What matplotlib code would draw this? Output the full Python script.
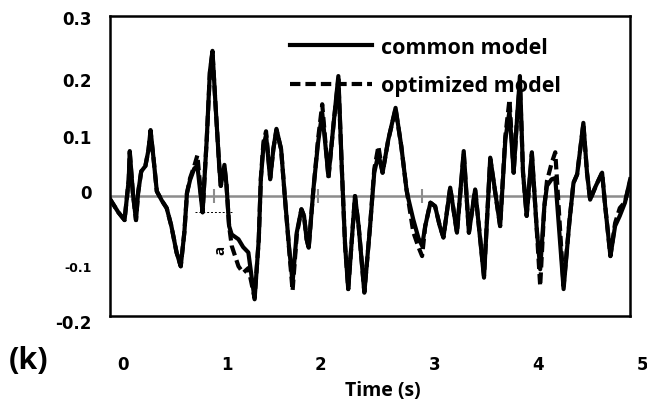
import matplotlib.pyplot as plt
from matplotlib.transforms import ScaledTranslation

# time (s) and response of the two models
time = [0.00, 0.08, 0.14, 0.18, 0.19, 0.22, 0.25, 0.27, 0.30, 0.34, 0.37,
        0.39, 0.42, 0.45, 0.50, 0.545, 0.59, 0.64, 0.68, 0.715, 0.74, 0.77,
        0.81, 0.84, 0.89, 0.93, 0.96, 0.985, 1.015, 1.05, 1.065, 1.10, 1.12,
        1.145, 1.17, 1.235, 1.28, 1.33, 1.39, 1.43, 1.45, 1.475, 1.50, 1.54,
        1.57, 1.60, 1.645, 1.68, 1.72, 1.755, 1.795, 1.84, 1.865, 1.89, 1.91,
        1.955, 2.00, 2.04, 2.10, 2.15, 2.195, 2.23, 2.26, 2.29, 2.355, 2.39,
        2.445, 2.50, 2.54, 2.58, 2.62, 2.675, 2.745, 2.80, 2.85, 2.87, 2.915,
        2.965, 3.00, 3.03, 3.08, 3.125, 3.17, 3.205, 3.27, 3.335, 3.40, 3.45,
        3.51, 3.595, 3.655, 3.75, 3.80, 3.84, 3.88, 3.91, 3.94, 3.97, 4.005,
        4.055, 4.10, 4.135, 4.175, 4.20, 4.245, 4.28, 4.36, 4.415, 4.455, 4.49,
        4.52, 4.55, 4.585, 4.615, 4.67, 4.73, 4.76, 4.81, 4.855, 4.90, 4.95,
        5.00]
common = [-0.005, -0.027, -0.04, 0.027, 0.075, 0.005, -0.04, 0.005, 0.041, 0.05, 0.077,
          0.11, 0.06, 0.008, -0.008, -0.02, -0.05, -0.094, -0.117, -0.06, 0.005, 0.027,
          0.046, 0.05, -0.027, 0.095, 0.207, 0.242, 0.15, 0.05, 0.017, 0.052, 0.018,
          -0.05, -0.064, -0.072, -0.085, -0.094, -0.172, -0.072, 0.028, 0.083, 0.102, 0.028,
          0.078, 0.112, 0.078, 0.0, -0.083, -0.144, -0.061, -0.022, -0.033, -0.072, -0.086,
          0.011, 0.089, 0.139, 0.033, 0.122, 0.2, 0.039, -0.083, -0.155, 0.0, -0.05,
          -0.161, -0.05, 0.039, 0.07, 0.039, 0.094, 0.147, 0.083, 0.011, -0.006, -0.039,
          -0.07, -0.083, -0.05, -0.011, -0.017, -0.05, -0.069, 0.014, -0.061, 0.075, -0.061,
          0.011, -0.136, 0.064, -0.05, 0.094, 0.142, 0.039, 0.122, 0.2, 0.039, -0.033,
          0.073, -0.05, -0.122, -0.017, 0.017, 0.028, 0.03, -0.155, -0.044, 0.022, 0.036,
          0.078, 0.122, 0.039, -0.006, 0.017, 0.039, -0.017, -0.1, -0.05, -0.033, -0.011,
          0.028]
optimized = [-0.005, -0.027, -0.04, 0.027, 0.072, 0.005, -0.04, 0.005, 0.041, 0.05, 0.077,
             0.108, 0.06, 0.008, -0.008, -0.02, -0.05, -0.094, -0.117, -0.06, 0.005, 0.03,
             0.05, 0.068, -0.027, 0.095, 0.205, 0.24, 0.15, 0.05, 0.017, 0.05, 0.018,
             -0.05, -0.083, -0.117, -0.128, -0.12, -0.17, -0.072, 0.03, 0.09, 0.108, 0.03,
             0.078, 0.11, 0.078, 0.0, -0.085, -0.158, -0.065, -0.022, -0.033, -0.072, -0.086,
             0.011, 0.095, 0.153, 0.03, 0.122, 0.195, 0.039, -0.083, -0.155, 0.0, -0.05,
             -0.16, -0.05, 0.045, 0.083, 0.039, 0.094, 0.145, 0.083, 0.011, -0.01, -0.06,
             -0.085, -0.1, -0.05, -0.011, -0.017, -0.05, -0.069, 0.014, -0.061, 0.072, -0.061,
             0.011, -0.133, 0.062, -0.05, 0.1, 0.161, 0.039, 0.122, 0.19, 0.039, -0.033,
             0.07, -0.05, -0.15, -0.017, 0.025, 0.055, 0.073, -0.15, -0.044, 0.022, 0.036,
             0.078, 0.12, 0.039, -0.006, 0.017, 0.039, -0.017, -0.1, -0.045, -0.02, -0.01,
             0.025]

xticks = [0, 1, 2, 3, 4, 5]
xtick_shift = [13, 13, 2, 13, 12, 12]   # label offsets (px) as printed in the source
yticks = [-0.2, -0.1, 0, 0.1, 0.2, 0.3]
ylabels = ['-0.2', '-0.1', '0', '0.1', '0.2', '0.3']
ytick_shift = [-5, -10, 5, 0, -3, -1]

plt.rcParams['font.family'] = ['Open Sans', 'DejaVu Sans']
plt.rcParams['font.weight'] = 'bold'

fig = plt.figure(figsize=(6.47, 4.06), dpi=100)
ax = fig.add_axes([0.170, 0.219, 0.804, 0.739])

ax.plot(time, optimized, color='black', lw=3.0, ls=(0, (2.5, 1.2)), label='optimized model', zorder=3)
ax.plot(time, common, color='black', lw=3.0, label='common model', zorder=4)

ax.set_xlim(0, 5)
ax.set_ylim(-0.2, 0.3)

# zero line with its own crossing ticks (Excel-style horizontal axis)
ax.axhline(0, color='#8c8c8c', lw=1.8, zorder=2)
zero_ax = ax.secondary_xaxis(0.4)
zero_ax.set_xticks(xticks[1:-1])
zero_ax.tick_params(direction='inout', length=10, width=1.5, color='#8c8c8c', labelbottom=False)
zero_ax.spines['bottom'].set_visible(False)

for s in ax.spines.values():
    s.set_linewidth(1.8)

tick_font = {'family': 'DejaVu Sans', 'weight': 'bold', 'size': 12}
ax.set_xticks(xticks)
ax.set_xticklabels([str(t) for t in xticks], fontdict=tick_font)
ax.set_yticks(yticks)
ax.set_yticklabels(ylabels, fontdict=tick_font)
ax.tick_params(axis='both', length=0)
ax.tick_params(axis='x', pad=28)
ax.tick_params(axis='y', pad=13)
for lab, dx in zip(ax.get_xticklabels(), xtick_shift):
    lab.set_transform(lab.get_transform() + ScaledTranslation(dx / 100, 0, fig.dpi_scale_trans))
for lab, dy in zip(ax.get_yticklabels(), ytick_shift):
    lab.set_transform(lab.get_transform() + ScaledTranslation(0, dy / 100, fig.dpi_scale_trans))
    if lab.get_text() == '-0.1':
        lab.set_fontsize(9)

ax.set_xlabel('Time (s)', fontsize=14, fontweight='bold', va='center')
ax.xaxis.set_label_coords(0.525, -0.247)

# annotation near the 1 s dip
ax.plot([0.82, 1.17], [-0.027, -0.027], color='black', lw=0.7, ls=(0, (2, 2)))
ax.text(1.06, -0.088, 'a', rotation=90, fontsize=11, ha='center', va='center')

handles, labels = ax.get_legend_handles_labels()
ax.legend(handles[::-1], labels[::-1], loc='upper left', bbox_to_anchor=(290 / 647, 1 - 38 / 406),
          bbox_transform=fig.transFigure, frameon=False, fontsize=15.5, handlelength=3.8,
          labelspacing=0.8, handletextpad=0.45, borderpad=0, borderaxespad=0)

fig.text(29 / 647, 1 - 361 / 406, '(k)', fontsize=22, fontweight='bold', ha='center', va='center')

fig.savefig('out.png', dpi=100)
